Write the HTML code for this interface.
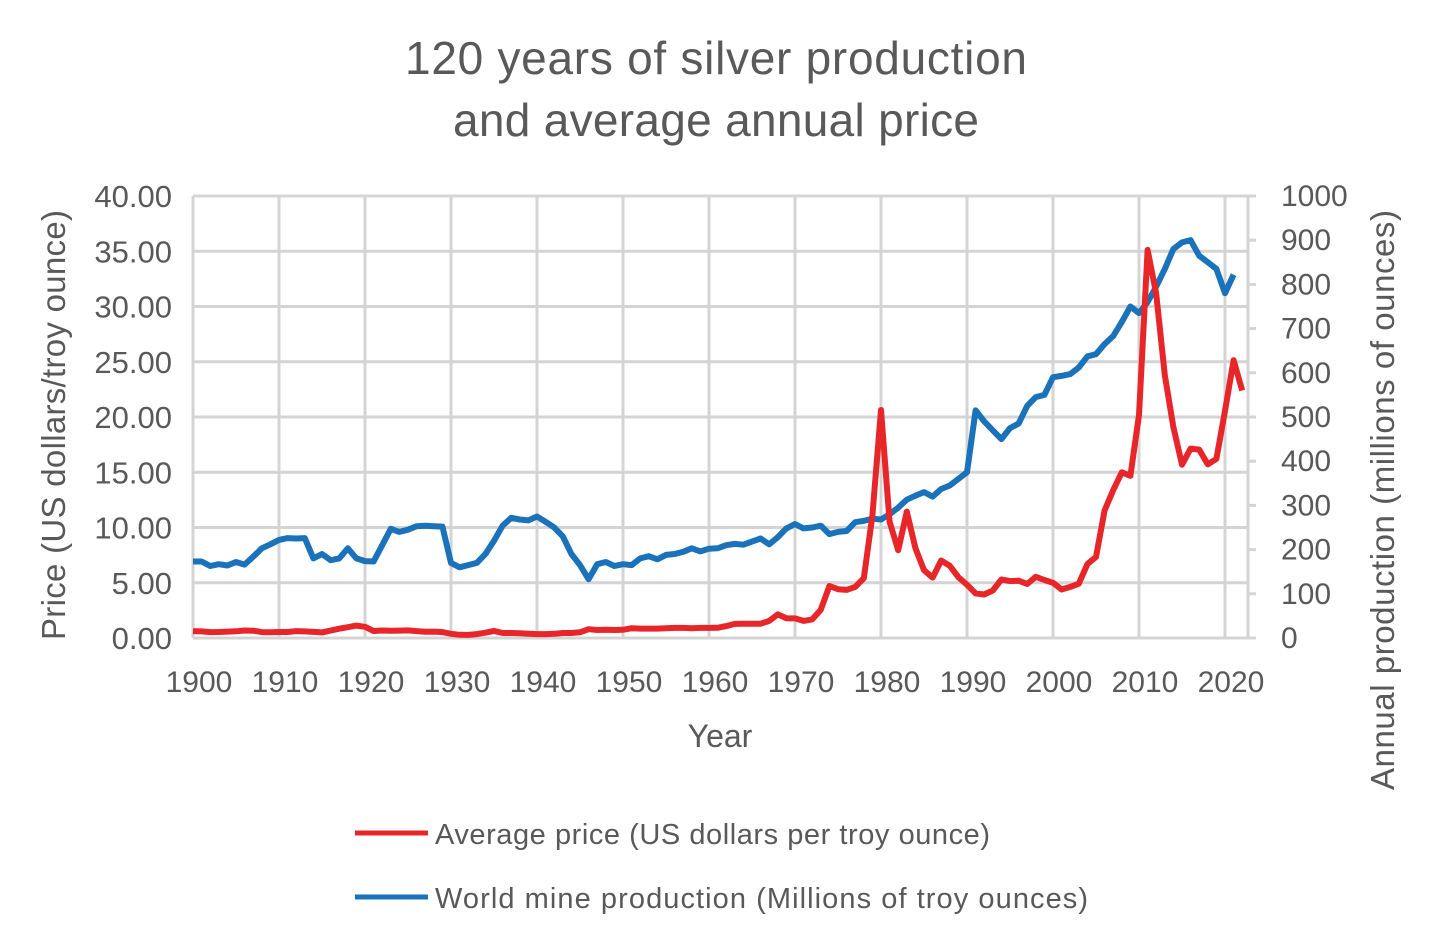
<!DOCTYPE html>
<html><head><meta charset="utf-8">
<style>
html,body{margin:0;padding:0;background:#fff;}
svg{display:block;font-family:"Liberation Sans",sans-serif;}
</style></head>
<body>
<svg id="chart" width="1430" height="942" viewBox="0 0 1430 942">
<text x="716" y="74" text-anchor="middle" font-size="46" fill="#595959" textLength="622">120 years of silver production</text>
<text x="716" y="136" text-anchor="middle" font-size="46" fill="#595959" textLength="526">and average annual price</text>
<g id="grid"></g>
<g id="series"></g>
<g id="ticks" fill="#595959"></g>
<text x="720" y="747" text-anchor="middle" font-size="32" fill="#595959">Year</text>
<text transform="translate(65,425) rotate(-90)" text-anchor="middle" font-size="33" fill="#595959" textLength="430">Price (US dollars/troy ounce)</text>
<text transform="translate(1394,500) rotate(-90)" text-anchor="middle" font-size="33" fill="#595959" textLength="580">Annual production (millions of ounces)</text>
<g>
<g>
<line x1="355" y1="833" x2="428" y2="833" stroke="#e8262a" stroke-width="5"/>
<text x="435" y="844" font-size="29" fill="#595959" textLength="555">Average price (US dollars per troy ounce)</text>
</g>
<g>
<line x1="355" y1="897" x2="428" y2="897" stroke="#1a72bb" stroke-width="5"/>
<text x="435" y="908" font-size="29" fill="#595959" textLength="653">World mine production (Millions of troy ounces)</text>
</g>
</g>
</svg>
<script>
const startYear = 1900;
const priceValues = [0.62,0.60,0.53,0.54,0.58,0.61,0.68,0.66,0.53,0.52,0.54,0.54,0.62,0.60,0.55,0.51,0.67,0.84,0.98,1.12,1.01,0.63,0.68,0.65,0.67,0.69,0.62,0.57,0.58,0.53,0.38,0.29,0.28,0.35,0.48,0.64,0.45,0.45,0.43,0.39,0.35,0.35,0.38,0.45,0.45,0.52,0.80,0.72,0.74,0.72,0.74,0.89,0.85,0.85,0.85,0.89,0.91,0.91,0.89,0.91,0.91,0.92,1.08,1.28,1.29,1.29,1.29,1.55,2.14,1.79,1.77,1.55,1.68,2.56,4.71,4.42,4.35,4.62,5.40,11.09,20.63,10.52,7.95,11.44,8.14,6.14,5.47,7.01,6.53,5.50,4.82,4.04,3.94,4.30,5.29,5.15,5.19,4.89,5.54,5.25,5.00,4.39,4.62,4.91,6.69,7.34,11.55,13.38,15.00,14.67,20.19,35.12,31.15,23.79,19.08,15.68,17.14,17.05,15.71,16.21,20.55,25.14,22.40];
const productionValues = [173,173,163,167,164,172,166,184,203,212,222,226,225,226,180,190,176,180,203,180,174,173,210,247,240,245,253,254,253,252,170,160,165,170,190,220,254,272,268,266,275,263,250,230,190,165,133,167,172,163,167,165,180,185,178,188,190,195,203,196,202,203,210,213,211,218,225,212,228,248,258,248,250,254,235,240,242,262,265,270,268,280,295,313,322,330,320,337,345,360,375,515,490,470,450,475,485,525,545,550,590,593,597,612,637,642,665,683,715,750,735,760,795,835,880,895,900,865,850,835,780,822];
const leftTicks = ["0.00","5.00","10.00","15.00","20.00","25.00","30.00","35.00","40.00"];
const rightTicks = ["0","100","200","300","400","500","600","700","800","900","1000"];
const xTicks = [1900,1910,1920,1930,1940,1950,1960,1970,1980,1990,2000,2010,2020];

const NS="http://www.w3.org/2000/svg";
const X0=193, PX_PER_YEAR=8.6, XR=1248, YB=638, YT=196;
const xs = yr => X0 + (yr-1900)*PX_PER_YEAR;
const yL = v => YB - v/40*(YB-YT);
const yR = v => YB - v/1000*(YB-YT);
function mk(tag, attrs, parent){const e=document.createElementNS(NS,tag);for(const k in attrs)e.setAttribute(k,attrs[k]);parent.appendChild(e);return e;}
const grid=document.getElementById('grid'), ticks=document.getElementById('ticks'), ser=document.getElementById('series');
leftTicks.forEach((t,i)=>{
  const v=parseFloat(t), y=yL(v);
  const l=mk('line',{x1:X0,x2:XR,y1:y,y2:y,stroke:'#d4d4d4','stroke-width':3},grid);
  
  
  const tx=mk('text',{x:172,y:y+11,'text-anchor':'end','font-size':31},ticks); tx.textContent=t;
  
  
});
rightTicks.forEach(t=>{
  const y=yR(parseFloat(t));
  const tk=mk('line',{x1:XR,x2:XR+8,y1:y,y2:y,stroke:'#d4d4d4','stroke-width':3},grid);
  
  
  const tx=mk('text',{x:1281,y:y+10,'text-anchor':'start','font-size':30},ticks); tx.textContent=t;
  
  
});
xTicks.forEach(yr=>{
  const x=xs(yr);
  const l=mk('line',{x1:x,x2:x,y1:YT,y2:YB,stroke:'#d4d4d4','stroke-width':3},grid);
  
  
  const tx=mk('text',{x:x+6,y:692,'text-anchor':'middle','font-size':30},ticks); tx.textContent=yr;
  
  
});
const rb=mk('line',{x1:XR,x2:XR,y1:YT,y2:YB,stroke:'#d4d4d4','stroke-width':3},grid);


function line(vals,fy,color,name){
  const pts=vals.map((v,i)=>xs(startYear+i).toFixed(1)+','+fy(v).toFixed(1)).join(' ');
  const p=mk('polyline',{points:pts,fill:'none',stroke:color,'stroke-width':6,'stroke-linejoin':'round'},ser);
  
  
}
line(productionValues,yR,'#1a72bb','production-line');
line(priceValues,yL,'#e8262a','price-line');
</script>
</body></html>
